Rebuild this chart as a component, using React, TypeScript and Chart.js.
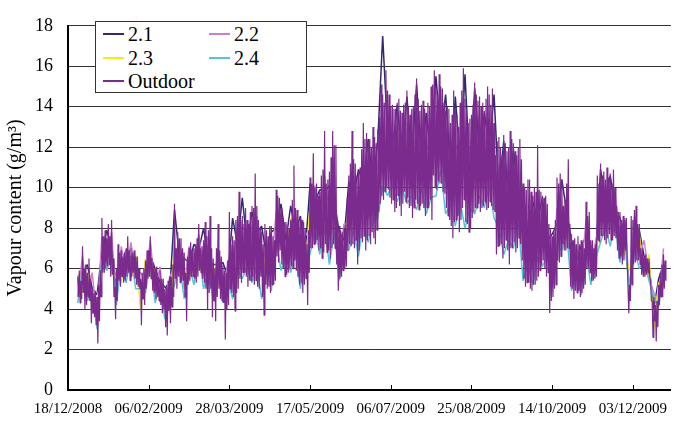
import React, { useEffect, useRef } from "react";
import { Chart, registerables } from "chart.js";

Chart.register(...registerables);

// ---- axis / calendar ----
const EPOCH_UTC = Date.UTC(2008, 11, 18); // day 0 = 18/12/2008
const X_TICK_STEP_DAYS = 50;
const X_MAX_DAYS = 373.6;
const Y_MIN = 0;
const Y_MAX = 18;
const Y_STEP = 2;
const Y_TITLE = "Vapour content (g/m³)";

// ---- series labels / colours ----
const SERIES_LABELS = ["2.1", "2.2", "2.3", "2.4", "Outdoor"];
const SERIES_COLORS = ["#2d2a72", "#cc80cc", "#eeee10", "#55c4d8", "#7b2a8d"];

// ---- Outdoor: daily maximum (at day) and minimum (half a day later), from day 6 ----
const OUTDOOR_START_DAY = 6;
const outdoorHigh = [
  5.6, 5.9, 5.4, 7.1, 6.0, 6.2, 5.8, 6.5, 5.5, 5.1,
  4.8, 4.9, 4.6, 5.2, 5.9, 8.5, 7.6, 7.9, 7.5, 8.2,
  7.6, 8.4, 6.5, 5.1, 6.0, 7.2, 6.8, 6.9, 6.6, 6.8,
  7.0, 7.6, 6.9, 7.0, 6.8, 6.9, 6.6, 6.6, 6.0, 5.5,
  5.8, 6.0, 6.4, 6.9, 6.9, 7.6, 6.5, 6.3, 6.0, 6.1,
  5.6, 5.9, 5.5, 5.5, 5.0, 5.2, 5.4, 5.6, 5.6, 6.2,
  9.2, 7.0, 7.8, 7.5, 7.5, 7.0, 6.8, 5.8, 6.6, 7.0,
  7.3, 6.9, 7.0, 7.2, 7.5, 8.2, 7.0, 7.1, 7.4, 8.3,
  7.6, 7.9, 8.6, 7.0, 6.5, 6.0, 7.0, 8.2, 6.9, 6.6,
  6.2, 5.9, 5.8, 6.4, 8.8, 7.2, 7.6, 7.4, 8.4, 8.6,
  9.8, 8.4, 8.6, 8.2, 9.0, 8.4, 8.2, 8.8, 9.1, 9.0,
  10.7, 9.1, 8.4, 8.0, 7.8, 7.2, 8.2, 7.9, 7.6, 8.1,
  8.1, 7.6, 7.4, 9.9, 9.6, 9.5, 9.0, 8.6, 8.3, 8.3,
  8.1, 8.0, 8.4, 9.4, 11.1, 9.0, 8.9, 8.3, 8.5, 8.4,
  8.3, 8.0, 7.2, 7.9, 10.5, 10.2, 11.7, 10.0, 10.2, 9.6,
  9.8, 10.6, 10.9, 12.8, 10.2, 10.4, 10.8, 11.5, 12.8, 12.1,
  12.1, 8.4, 8.1, 7.9, 7.8, 8.0, 8.0, 9.5, 10.6, 11.2,
  12.8, 11.4, 11.2, 10.6, 10.8, 11.0, 11.9, 13.2, 12.4, 12.7,
  12.3, 12.4, 12.0, 13.0, 12.5, 12.2, 12.9, 13.5, 15.1, 14.6,
  14.2, 15.8, 14.8, 14.6, 14.0, 14.1, 13.9, 13.9, 14.2, 14.4,
  13.8, 13.7, 14.1, 14.2, 14.8, 14.0, 13.6, 13.9, 14.0, 14.6,
  15.4, 14.4, 13.8, 14.1, 14.3, 13.9, 13.5, 14.2, 14.0, 15.0,
  15.1, 15.8, 15.0, 14.6, 15.6, 15.0, 14.9, 14.2, 13.8, 14.0,
  13.9, 13.2, 13.6, 14.8, 13.9, 13.6, 13.0, 14.2, 14.8, 15.9,
  14.4, 13.9, 13.2, 13.4, 13.6, 14.1, 15.2, 14.6, 14.3, 14.5,
  14.0, 14.2, 13.8, 14.4, 15.0, 14.6, 14.1, 14.9, 13.2, 11.6,
  12.3, 12.5, 12.0, 11.6, 12.6, 12.2, 11.8, 12.0, 12.8, 12.4,
  12.2, 11.8, 11.6, 12.0, 12.4, 11.4, 10.2, 10.0, 9.9, 10.4,
  10.4, 9.8, 9.6, 10.0, 9.8, 12.1, 9.9, 9.8, 9.6, 9.5,
  9.6, 9.2, 8.2, 8.0, 7.6, 7.8, 8.4, 10.5, 10.2, 10.7,
  10.4, 9.1, 9.4, 10.2, 11.4, 8.2, 7.7, 7.4, 7.5, 7.2,
  7.6, 7.2, 7.4, 7.2, 7.0, 9.3, 8.6, 8.8, 7.4, 7.4,
  7.0, 7.2, 10.6, 10.2, 11.2, 10.6, 10.8, 10.4, 11.0, 10.5,
  10.7, 10.2, 10.9, 10.0, 9.1, 8.8, 8.8, 8.4, 8.6, 8.4,
  8.5, 6.4, 5.2, 8.6, 8.4, 8.9, 9.1, 8.2, 8.2, 7.0,
  6.9, 6.6, 6.7, 6.5, 6.5, 5.4, 4.4, 4.6, 4.2, 4.4,
  5.2, 5.8, 6.2, 6.7, 6.4,
];
const outdoorLow = [
  4.6, 4.3, 4.5, 4.8, 4.0, 4.2, 4.6, 4.4, 3.3, 3.8,
  3.6, 3.2, 2.3, 3.4, 4.6, 5.8, 5.8, 6.0, 6.1, 6.2,
  5.6, 5.7, 4.6, 3.5, 4.4, 5.4, 5.1, 5.6, 5.3, 5.4,
  5.6, 5.8, 5.4, 5.6, 5.8, 5.5, 5.2, 5.1, 5.0, 3.2,
  4.5, 4.2, 5.0, 5.5, 5.6, 5.5, 4.9, 4.8, 4.5, 4.6,
  4.4, 4.2, 3.8, 4.0, 3.1, 2.7, 3.9, 3.3, 4.1, 4.6,
  5.5, 5.0, 5.6, 5.3, 5.4, 5.4, 4.6, 3.4, 5.2, 5.4,
  5.6, 5.6, 5.5, 5.3, 5.6, 5.9, 5.8, 5.5, 5.3, 5.0,
  4.0, 4.8, 5.0, 3.6, 4.4, 3.4, 4.6, 5.0, 4.5, 4.4,
  4.3, 2.5, 4.0, 4.2, 5.0, 4.8, 4.6, 3.9, 4.8, 5.0,
  5.5, 5.3, 5.8, 5.8, 5.6, 5.1, 5.4, 5.4, 5.6, 5.2,
  5.4, 5.1, 5.0, 5.6, 4.6, 3.7, 5.2, 5.0, 5.1, 4.8,
  5.2, 5.2, 5.4, 6.6, 6.3, 6.9, 6.2, 6.0, 5.6, 5.7,
  5.8, 6.0, 6.1, 6.0, 6.4, 5.9, 5.6, 5.2, 5.3, 4.8,
  5.2, 5.5, 4.2, 5.8, 7.0, 7.0, 7.2, 7.2, 7.4, 6.9,
  7.0, 6.5, 6.8, 7.2, 6.8, 6.9, 6.5, 7.0, 7.2, 7.0,
  6.2, 4.9, 5.5, 5.6, 5.9, 6.0, 6.1, 6.9, 7.2, 7.1,
  7.2, 7.0, 7.4, 6.2, 6.9, 7.5, 7.3, 7.6, 6.9, 7.4,
  7.6, 7.2, 7.8, 7.5, 7.2, 7.9, 8.8, 9.2, 9.6, 9.4,
  9.8, 10.0, 9.9, 9.5, 9.2, 9.4, 8.8, 9.0, 9.6, 9.1,
  8.6, 9.2, 9.8, 9.3, 9.5, 9.0, 9.1, 8.5, 9.0, 9.4,
  9.2, 8.9, 9.1, 9.2, 9.0, 8.6, 9.0, 9.0, 9.4, 8.4,
  10.6, 10.0, 9.9, 10.3, 10.2, 10.2, 9.8, 9.7, 9.0, 8.6,
  8.4, 8.1, 7.5, 8.3, 8.4, 8.6, 7.8, 8.4, 9.0, 9.4,
  8.3, 8.2, 7.8, 8.0, 8.5, 8.8, 9.0, 9.0, 9.2, 8.8,
  9.0, 9.1, 9.3, 8.9, 9.0, 9.3, 9.1, 8.9, 8.8, 6.7,
  7.1, 7.1, 7.2, 6.5, 7.0, 7.4, 6.9, 6.2, 7.0, 7.0,
  7.3, 6.8, 7.0, 7.5, 7.2, 6.4, 5.5, 5.1, 5.3, 5.3,
  5.0, 4.9, 5.2, 5.2, 5.4, 5.6, 5.9, 6.2, 6.4, 6.0,
  5.6, 5.8, 3.8, 4.4, 4.6, 5.0, 5.2, 6.4, 6.3, 6.6,
  7.2, 6.9, 6.9, 7.0, 7.0, 5.1, 5.0, 4.5, 4.9, 4.8,
  4.9, 4.6, 4.8, 5.0, 5.2, 6.0, 6.0, 5.8, 5.4, 5.4,
  5.5, 5.6, 7.4, 7.3, 7.6, 7.6, 7.4, 7.2, 7.5, 7.7,
  7.4, 7.4, 7.6, 7.5, 6.9, 6.5, 6.6, 6.2, 6.4, 6.9,
  6.4, 3.8, 4.4, 5.2, 6.2, 6.3, 6.4, 6.4, 6.2, 5.7,
  5.6, 5.6, 5.7, 5.8, 5.6, 4.4, 2.6, 3.4, 2.4, 3.1,
  4.2, 4.6, 4.6, 5.0, 5.4,
];

// ---- Indoor series: readings every 3 days from day 6 ----
const INDOOR_START_DAY = 6;
const INDOOR_STEP_DAYS = 3;
const s21 = [
  5.6, 5.8, 6.2, 5.0, 4.7, 6.8, 7.9, 7.0, 5.1, 6.3,
  6.9, 6.5, 6.5, 5.0, 6.1, 6.6, 6.0, 5.3, 5.1, 4.8,
  8.9, 6.6, 6.5, 6.3, 7.2, 6.9, 8.0, 6.4, 6.2, 6.2,
  6.3, 5.6, 8.5, 7.2, 9.5, 7.2, 8.8, 7.8, 8.1, 6.6,
  7.8, 8.0, 9.2, 7.4, 9.1, 7.8, 8.6, 6.8, 10.2, 9.3,
  9.9, 9.8, 10.1, 9.4, 7.8, 7.4, 10.3, 9.6, 10.9, 10.2,
  12.4, 10.2, 12.4, 17.5, 12.8, 11.8, 14.1, 11.4, 14.5, 11.4,
  15.1, 11.4, 13.7, 11.4, 15.5, 12.6, 14.6, 10.9, 14.5, 11.3,
  15.6, 10.7, 14.9, 11.8, 13.7, 12.0, 14.6, 9.7, 12.3, 9.5,
  11.9, 9.7, 9.9, 7.6, 9.3, 8.4, 9.5, 7.4, 7.7, 8.2,
  10.4, 8.8, 7.4, 6.4, 7.1, 7.6, 7.1, 6.6, 10.9, 9.3,
  10.6, 9.0, 8.5, 7.7, 4.9, 7.8, 7.9, 6.6, 6.2, 4.0,
  5.5, 6.2,
];
const s22 = [
  4.6, 6.6, 4.7, 5.8, 3.4, 7.6, 6.4, 7.8, 4.4, 7.1,
  5.8, 7.3, 5.6, 5.8, 5.4, 7.4, 4.9, 6.1, 3.8, 5.6,
  6.0, 7.4, 5.0, 7.1, 5.8, 7.7, 5.7, 7.2, 5.0, 7.0,
  4.4, 6.4, 6.0, 8.0, 6.5, 8.0, 6.8, 8.6, 5.9, 7.4,
  6.0, 8.8, 7.2, 8.2, 7.4, 8.6, 6.4, 7.6, 8.0, 10.1,
  8.3, 10.6, 8.4, 10.2, 6.4, 8.2, 8.2, 10.4, 8.6, 11.0,
  9.2, 11.0, 10.2, 13.0, 11.6, 12.6, 10.8, 12.2, 11.1, 12.2,
  11.0, 12.2, 10.5, 12.2, 11.8, 13.4, 10.6, 11.7, 10.4, 12.1,
  10.2, 11.5, 11.1, 12.6, 10.8, 12.8, 10.2, 10.5, 8.8, 10.3,
  8.6, 10.5, 7.2, 8.4, 6.7, 9.2, 7.2, 8.2, 5.4, 9.0,
  7.8, 9.6, 5.9, 7.2, 5.7, 8.4, 6.0, 7.4, 8.4, 10.1,
  8.3, 9.8, 7.0, 8.5, 4.8, 8.6, 6.6, 7.4, 5.6, 4.8,
  4.2, 7.0,
];
const s23 = [
  5.7, 4.8, 5.8, 4.0, 4.5, 5.8, 7.5, 6.0, 5.5, 5.3,
  6.9, 5.5, 6.7, 4.0, 6.5, 5.6, 6.0, 4.3, 4.9, 3.8,
  7.1, 5.6, 6.1, 5.3, 6.9, 5.9, 6.8, 5.4, 6.1, 5.2,
  5.5, 4.6, 7.1, 6.2, 7.6, 6.2, 7.9, 6.8, 7.0, 5.6,
  7.1, 7.0, 8.3, 6.4, 8.5, 6.8, 7.5, 5.8, 9.1, 8.3,
  9.4, 8.8, 9.5, 8.4, 7.5, 6.4, 9.3, 8.6, 9.7, 9.2,
  10.3, 9.2, 11.3, 11.2, 12.7, 10.8, 11.9, 10.4, 12.2, 10.4,
  12.1, 10.4, 11.6, 10.4, 12.9, 11.6, 11.7, 9.9, 11.5, 10.3,
  11.3, 9.7, 12.2, 10.8, 11.9, 11.0, 11.3, 8.7, 9.9, 8.5,
  9.7, 8.7, 8.3, 6.6, 7.8, 7.4, 8.3, 6.4, 6.5, 7.2,
  8.9, 7.8, 7.0, 5.4, 6.8, 6.6, 7.1, 5.6, 9.5, 8.3,
  9.4, 8.0, 8.1, 6.7, 5.9, 6.8, 7.7, 5.6, 6.7, 3.0,
  5.3, 5.2,
];
const s24 = [
  4.3, 6.0, 4.4, 5.0, 3.0, 6.5, 5.9, 6.6, 4.2, 6.4,
  5.3, 6.6, 5.0, 5.0, 4.8, 6.4, 4.3, 5.3, 3.5, 4.6,
  5.2, 6.3, 4.5, 6.2, 5.2, 6.8, 5.0, 5.9, 4.4, 5.8,
  4.3, 5.4, 4.5, 6.0, 5.5, 6.1, 5.3, 6.1, 4.5, 6.0,
  4.9, 7.4, 5.9, 6.7, 5.8, 6.8, 5.0, 6.4, 6.7, 8.0,
  6.7, 8.0, 6.2, 7.8, 5.4, 6.9, 6.9, 7.9, 6.6, 8.4,
  7.3, 8.4, 8.5, 10.1, 9.6, 10.2, 9.3, 10.0, 9.2, 9.6,
  8.9, 10.0, 8.7, 9.5, 9.6, 10.9, 8.7, 9.2, 8.1, 9.3,
  8.0, 9.0, 8.7, 9.6, 9.0, 10.1, 8.5, 8.0, 6.7, 7.4,
  7.0, 8.3, 5.4, 6.3, 5.2, 6.6, 6.1, 6.7, 4.9, 7.1,
  6.9, 7.9, 4.9, 5.8, 4.7, 6.8, 5.2, 6.5, 7.3, 8.1,
  7.1, 8.3, 6.3, 7.7, 4.6, 7.0, 6.0, 6.4, 5.4, 4.6,
  4.1, 5.9,
];

const FONT = '"Liberation Serif", "DejaVu Serif", "Noto Serif", "Times New Roman", serif';

const pad2 = (n: number) => (n < 10 ? "0" + n : String(n));
const fmtDay = (d: number) => {
  const dt = new Date(EPOCH_UTC + Math.round(d) * 86400000);
  return `${pad2(dt.getUTCDate())}/${pad2(dt.getUTCMonth() + 1)}/${dt.getUTCFullYear()}`;
};

const toPoints = (arr: number[], start: number, step: number) =>
  arr.map((v, i) => ({ x: start + i * step, y: v }));

const toHighLowPoints = (hi: number[], lo: number[], start: number) => {
  const pts: { x: number; y: number }[] = [];
  hi.forEach((h, i) => {
    pts.push({ x: start + i, y: h });
    if (i < lo.length) pts.push({ x: start + i + 0.5, y: lo[i] });
  });
  return pts;
};

const upTicksPlugin = {
  id: "upTicks",
  afterDraw(chart: any) {
    const xs = chart.scales.x;
    const ctx = chart.ctx;
    ctx.save();
    ctx.strokeStyle = "#000";
    ctx.lineWidth = 1;
    xs.ticks.forEach((t: any) => {
      const px = Math.round(xs.getPixelForValue(t.value)) + 0.5;
      ctx.beginPath();
      ctx.moveTo(px, xs.top);
      ctx.lineTo(px, xs.top - 5);
      ctx.stroke();
    });
    ctx.restore();
  },
};

export default function App() {
  const ref = useRef<HTMLCanvasElement>(null);

  useEffect(() => {
    if (!ref.current) return;
    const indoor = [s21, s22, s23, s24];
    const datasets: any[] = [
      {
        label: SERIES_LABELS[4],
        data: toHighLowPoints(outdoorHigh, outdoorLow, OUTDOOR_START_DAY),
        borderColor: SERIES_COLORS[4],
        borderWidth: 1.2,
        pointRadius: 0,
        order: 0,
      },
    ];
    for (let k = 3; k >= 0; k--) {
      datasets.push({
        label: SERIES_LABELS[k],
        data: toPoints(indoor[k], INDOOR_START_DAY, INDOOR_STEP_DAYS),
        borderColor: SERIES_COLORS[k],
        borderWidth: 1.5,
        pointRadius: 0,
        order: 4 - k,
      });
    }
    const chart = new Chart(ref.current, {
      type: "line",
      data: { datasets },
      options: {
        animation: false,
        responsive: false,
        maintainAspectRatio: false,
        parsing: false as any,
        layout: { padding: { top: 14, right: 0, bottom: 0, left: 0 } },
        elements: { line: { tension: 0, borderJoinStyle: "bevel" } },
        plugins: { legend: { display: false }, tooltip: { enabled: false } },
        scales: {
          x: {
            type: "linear",
            min: 0,
            max: X_MAX_DAYS,
            grid: { display: false, drawTicks: false },
            border: { display: true, color: "#000", width: 2 },
            ticks: {
              stepSize: X_TICK_STEP_DAYS,
              includeBounds: false,
              autoSkip: false,
              maxRotation: 0,
              padding: 10,
              color: "#000",
              font: { family: FONT, size: 15 },
              callback: (v: any) => fmtDay(Number(v)),
            },
            afterFit: (s: any) => {
              s.height = 34;
            },
          },
          y: {
            min: Y_MIN,
            max: Y_MAX,
            grid: { color: "#333", lineWidth: 1, drawTicks: false },
            border: { display: true, color: "#000", width: 2 },
            ticks: {
              stepSize: Y_STEP,
              padding: 15,
              color: "#000",
              font: { family: FONT, size: 18 },
            },
            title: {
              display: true,
              text: Y_TITLE,
              color: "#000",
              font: { family: FONT, size: 20, weight: "normal" },
              padding: { top: 4, bottom: 0 },
            },
            afterFit: (s: any) => {
              s.width = 68;
            },
          },
        },
      } as any,
      plugins: [upTicksPlugin],
    });
    return () => chart.destroy();
  }, []);

  const legendPos = [
    { left: 7, top: 12 },
    { left: 113, top: 12 },
    { left: 7, top: 36 },
    { left: 113, top: 36 },
    { left: 7, top: 59 },
  ];

  return (
    <div style={{ position: "absolute", left: 0, top: 0, width: 677, height: 424, background: "#fff" }}>
      <canvas ref={ref} width={677} height={424} style={{ display: "block" }} />
      <div
        style={{
          position: "absolute",
          left: 95,
          top: 21,
          width: 210,
          height: 70,
          border: "1px solid #333",
          background: "#fff",
          fontFamily: FONT,
          fontSize: 20,
          color: "#000",
        }}
      >
        {SERIES_LABELS.map((lab, i) => (
          <div
            key={lab}
            style={{
              position: "absolute",
              left: legendPos[i].left,
              top: legendPos[i].top - 12,
              height: 24,
              display: "flex",
              alignItems: "center",
              whiteSpace: "nowrap",
            }}
          >
            <span style={{ display: "inline-block", width: 21, height: 2, background: SERIES_COLORS[i], marginRight: 4 }} />
            <span style={{ lineHeight: "24px" }}>{lab}</span>
          </div>
        ))}
      </div>
    </div>
  );
}
